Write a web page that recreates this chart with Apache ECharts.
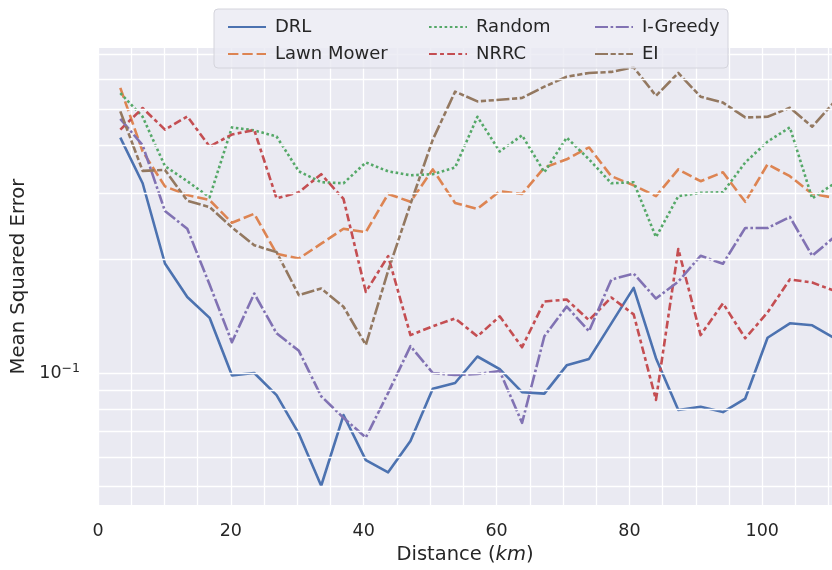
<!DOCTYPE html>
<html><head><meta charset="utf-8">
<script src="https://cdn.jsdelivr.net/npm/echarts@6/dist/echarts.min.js"></script>
<style>html,body{margin:0;padding:0;background:#fff;overflow:hidden}#c{width:832px;height:570px}</style>
</head><body><div id="c"></div>
<script>
const distance = [3.36, 6.72, 10.08, 13.44, 16.8, 20.16, 23.52, 26.88, 30.24, 33.6, 36.96, 40.32, 43.68, 47.04, 50.4, 53.76, 57.12, 60.48, 63.84, 67.2, 70.56, 73.92, 77.28, 80.64, 84.0, 87.36, 90.72, 94.08, 97.44, 100.8, 104.16, 107.52, 110.88];
const drl = [0.420,0.318,0.195,0.159,0.140,0.0986,0.100,0.0874,0.0691,0.0503,0.0774,0.0588,0.0546,0.0661,0.0909,0.0941,0.1106,0.1024,0.089,0.0882,0.1048,0.109,0.1354,0.168,0.1095,0.0798,0.0814,0.0788,0.0856,0.124,0.1354,0.1338,0.1236];
const lawnMower = [0.569,0.386,0.312,0.296,0.287,0.250,0.264,0.207,0.201,0.220,0.241,0.236,0.298,0.284,0.346,0.282,0.272,0.303,0.298,0.350,0.368,0.396,0.332,0.314,0.294,0.346,0.322,0.340,0.284,0.357,0.332,0.298,0.291];
const randomS = [0.551,0.477,0.353,0.322,0.292,0.447,0.439,0.423,0.342,0.320,0.318,0.361,0.342,0.334,0.336,0.350,0.477,0.386,0.426,0.340,0.420,0.368,0.318,0.320,0.229,0.294,0.300,0.301,0.361,0.410,0.447,0.290,0.318];
const nrrc = [0.441,0.503,0.441,0.478,0.398,0.428,0.440,0.290,0.301,0.336,0.289,0.164,0.204,0.126,0.133,0.1395,0.125,0.1413,0.117,0.1547,0.1565,0.138,0.1585,0.143,0.0849,0.213,0.126,0.153,0.1236,0.1447,0.177,0.1736,0.165];
const iGreedy = [0.471,0.401,0.2685,0.241,0.1715,0.1207,0.1624,0.1274,0.1145,0.0868,0.0761,0.0675,0.0886,0.1178,0.100,0.0988,0.0994,0.1012,0.0738,0.1251,0.150,0.129,0.1768,0.1833,0.1575,0.1746,0.2044,0.1947,0.2422,0.242,0.259,0.2044,0.2294];
const ei = [0.493,0.343,0.345,0.286,0.275,0.243,0.218,0.209,0.1607,0.1674,0.1498,0.1187,0.1866,0.280,0.415,0.556,0.524,0.529,0.535,0.573,0.609,0.623,0.627,0.645,0.542,0.623,0.539,0.520,0.475,0.477,0.504,0.449,0.523];
const yGridValues = [0.05,0.06,0.07,0.08,0.09,0.1,0.2,0.3,0.4,0.5,0.6,0.7];
const xTickLabels = [0, 20, 40, 60, 80, 100];

const FONT = 'DejaVu Sans';
const LW = 2.6;
const defs = [
  {name:'DRL', data:drl, color:'#4C72B0', type:'solid'},
  {name:'Lawn Mower', data:lawnMower, color:'#DD8452', type:[4*LW,1.5*LW]},
  {name:'Random', data:randomS, color:'#55A868', type:[1*LW,1*LW]},
  {name:'NRRC', data:nrrc, color:'#C44E52', type:[3*LW,1.25*LW,1.5*LW,1.25*LW]},
  {name:'I-Greedy', data:iGreedy, color:'#8172B3', type:[5*LW,1*LW,1*LW,1*LW]},
  {name:'EI', data:ei, color:'#937860', type:[5*LW,1*LW,2*LW,1*LW,2*LW,1*LW]}
];
const series = defs.map(d => ({
  name: d.name, type:'line', symbol:'none', z:3, clip:true,
  data: distance.map((x,i)=>[x, d.data[i]]),
  itemStyle:{color:d.color},
  lineStyle:{color:d.color, width:LW, type:d.type, cap:'butt', join:'round'}
}));
series.unshift({
  name:'grid', type:'line', data:[], z:1, silent:true,
  markLine:{silent:true, symbol:'none', label:{show:false}, animation:false,
    lineStyle:{color:'#ffffff', width:1.3, type:'solid'},
    data: yGridValues.map(v=>({yAxis:v}))}
});
const legendCommon = {
  orient:'vertical', itemWidth:38, itemHeight:14, itemGap:9, z:10,
  itemStyle:{opacity:0},
  textStyle:{fontFamily:FONT, fontSize:18, color:'#262626', lineHeight:18, padding:[0,0,0,4]},
  selectedMode:false
};
const chart = echarts.init(document.getElementById('c'), null, {renderer:'canvas', width:832, height:570});
chart.setOption({
  animation:false,
  backgroundColor:'#ffffff',
  grid:{left:98, top:48, width:734, height:460, show:true, backgroundColor:'#EAEAF2', borderWidth:0},
  xAxis:{
    type:'value', min:0, max:110.5, interval:5,
    axisLine:{show:false}, axisTick:{show:false},
    splitLine:{show:true, lineStyle:{color:'#ffffff', width:1.3}},
    axisLabel:{fontFamily:FONT, fontSize:17.5, color:'#262626', margin:17, showMaxLabel:false,
      formatter: v => xTickLabels.indexOf(v) >= 0 ? String(v) : ''},
    name:'Distance ({i|km})', nameLocation:'middle', nameGap:39,
    nameTextStyle:{fontFamily:FONT, fontSize:19.5, color:'#262626',
      rich:{i:{fontFamily:FONT, fontSize:19.5, fontStyle:'italic', color:'#262626'}}}
  },
  yAxis:{
    type:'log', logBase:10, min:0.0447, max:0.7254,
    axisLine:{show:false}, axisTick:{show:false}, splitLine:{show:false},
    axisLabel:{fontFamily:FONT, fontSize:17.5, color:'#262626', margin:18,
      formatter: v => Math.abs(Math.log10(v)+1) < 1e-6 ? '{b|10}{s|−1}' : '',
      rich:{b:{fontFamily:FONT, fontSize:17.5, color:'#262626'},
            s:{fontFamily:FONT, fontSize:12.5, color:'#262626', padding:[0,0,9,0]}}},
    name:'Mean Squared Error', nameLocation:'middle', nameGap:66, nameRotate:90,
    nameTextStyle:{fontFamily:FONT, fontSize:19.7, color:'#262626'}
  },
  graphic:[{type:'rect', z:8, shape:{x:214, y:9, width:514, height:59, r:4},
    style:{fill:'rgba(234,234,242,0.8)', stroke:'#d4d4dc', lineWidth:1}}],
  legend:[
    Object.assign({left:222, top:13, data:['DRL','Lawn Mower']}, legendCommon),
    Object.assign({left:423, top:13, data:['Random','NRRC']}, legendCommon),
    Object.assign({left:589, top:13, data:['I-Greedy','EI']}, legendCommon)
  ],
  series: series
});
</script></body></html>
